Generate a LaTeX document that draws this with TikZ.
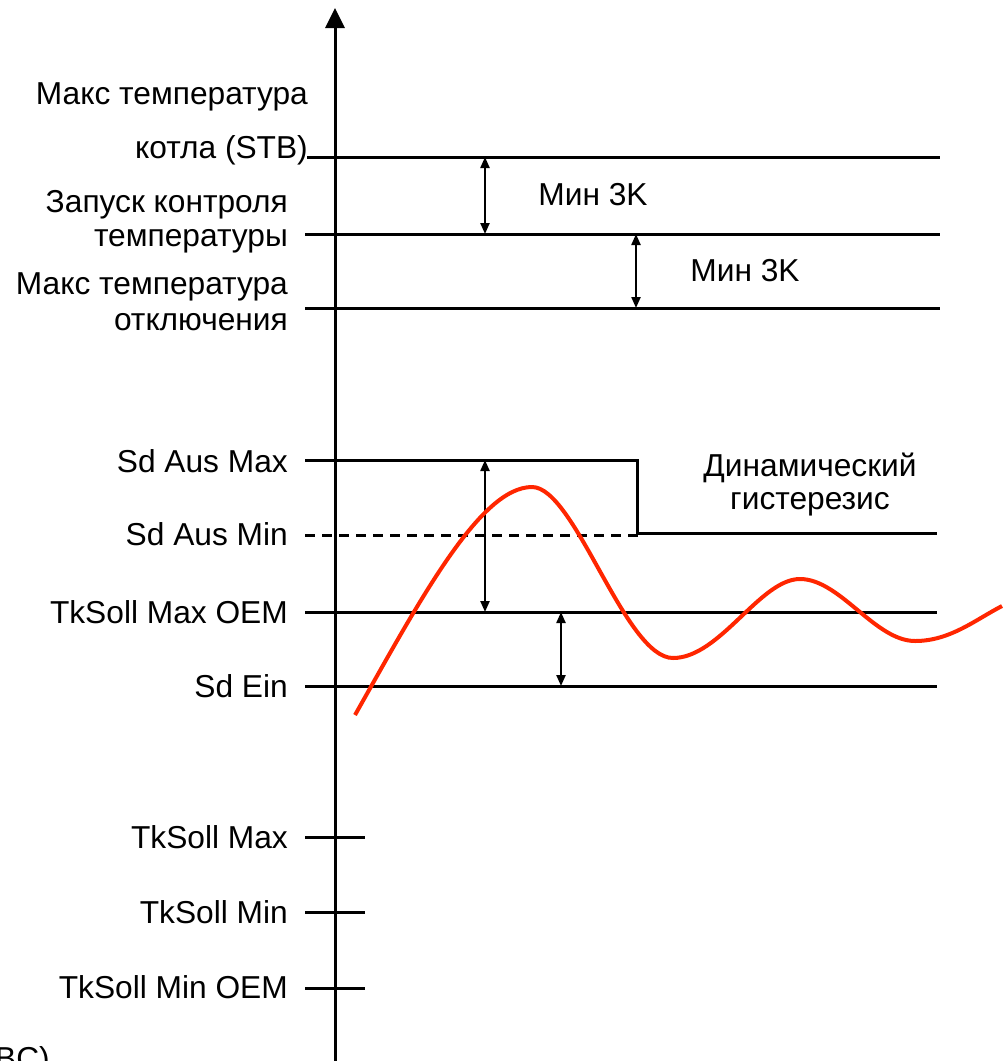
\documentclass[tikz,border=0pt]{standalone}
\usepackage{fontspec}
\setmainfont{Liberation Sans}
\usetikzlibrary{arrows.meta}
\definecolor{curvered}{RGB}{255,38,0}
\begin{document}
\begin{tikzpicture}[x=1pt,y=1pt,yscale=-1,
	lvl/.style={line width=3pt},
	dimarrow/.style={line width=2.2pt,{Triangle[width=9pt,length=11pt]}-{Triangle[width=9pt,length=11pt]}},
	lbl/.style={anchor=base east,inner sep=0pt,font=\fontsize{31.7}{38}\selectfont},
	txt/.style={anchor=base,inner sep=0pt,font=\fontsize{31.7}{38}\selectfont}]
	\useasboundingbox (0,0) rectangle (1008,1061);
	% Axis
	\coordinate (axbot) at (335,1061);
	\coordinate (axtop) at (335,8);
	\draw [lvl,-{Triangle[width=19pt,length=20pt]}] (axbot) -- (axtop);
	% Levels
	\coordinate (stbL) at (307,157);  \coordinate (stbR) at (940,157);
	\coordinate (runL) at (305,234);  \coordinate (runR) at (940,234);
	\coordinate (offL) at (305,308);  \coordinate (offR) at (940,308);
	\coordinate (ausmaxL) at (305,460);
	\coordinate (ausminL) at (305,535);  \coordinate (ausminR) at (641,535);
	\coordinate (oemL) at (305,612);  \coordinate (oemR) at (937,612);
	\coordinate (einL) at (305,686);  \coordinate (einR) at (937,686);
	\draw [lvl] (stbL) -- (stbR);
	\draw [lvl] (runL) -- (runR);
	\draw [lvl] (offL) -- (offR);
	\draw [lvl] (ausmaxL) -- (637,460) -- (637,533) -- (937,533);
	\draw [lvl,dash pattern=on 10pt off 7pt] (ausminL) -- (ausminR);
	\draw [lvl] (oemL) -- (oemR);
	\draw [lvl] (einL) -- (einR);
	% Ticks
	\draw [lvl] (305,837) -- (365,837);
	\draw [lvl] (305,912) -- (365,912);
	\draw [lvl] (305,988) -- (365,988);
	% Dimension arrows
	\draw [dimarrow] (485,157) -- (485,234);
	\draw [dimarrow] (636,234) -- (636,308);
	\draw [dimarrow] (485,460) -- (485,612);
	\draw [dimarrow] (561,612) -- (561,686);
	% Red curve
	\draw [curvered,line width=4pt] (355,715) .. controls (420,600) and (480,487) .. (532,487)
		.. controls (575,487) and (625,658) .. (673,658)
		.. controls (720,658) and (760,579) .. (800,579)
		.. controls (840,579) and (875,641) .. (915,641)
		.. controls (950,641) and (975,620) .. (1002,606);
	% Text nodes
	\node [lbl] (stb1) at (308,104) {Макс температура};
	\node [lbl] (stb2) at (308,158) {котла (STB)};
	\node [lbl] (run1) at (288,212) {Запуск контроля};
	\node [lbl] (run2) at (288,246) {температуры};
	\node [lbl] (off1) at (288,294) {Макс температура};
	\node [lbl] (off2) at (288,330) {отключения};
	\node [lbl] (ausmax) at (288,472) {Sd Aus Max};
	\node [lbl] (ausmin) at (288,545) {Sd Aus Min};
	\node [lbl] (oem) at (288,623) {TkSoll Max OEM};
	\node [lbl] (ein) at (288,697) {Sd Ein};
	\node [lbl] (smax) at (288,848) {TkSoll Max};
	\node [lbl] (smin) at (288,923) {TkSoll Min};
	\node [lbl] (sminoem) at (288,998) {TkSoll Min OEM};
	\node [lbl] (bc) at (50,1069) {BC)};
	\node [txt] (min1) at (593,205) {Мин 3K};
	\node [txt] (min2) at (745,281) {Мин 3K};
	\node [txt] (dyn1) at (810,476) {Динамический};
	\node [txt] (dyn2) at (810,509) {гистерезис};
\end{tikzpicture}
\end{document}
